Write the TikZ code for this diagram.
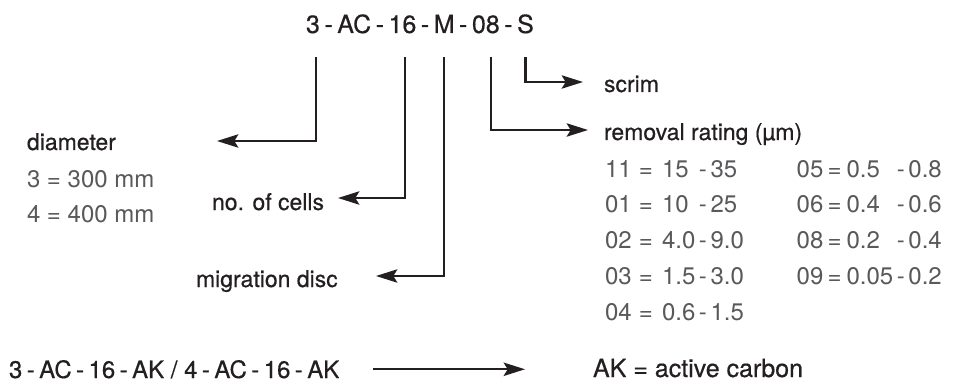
\documentclass[tikz,border=0pt]{standalone}
\usepackage{fontspec}
\setmainfont{TeX Gyre Heros}
\newfontfamily\labelfont[FakeBold=0.5]{TeX Gyre Heros}
\usepackage{tikz}
\usetikzlibrary{positioning,arrows.meta}
\definecolor{ink}{HTML}{231F20}
\definecolor{greytext}{HTML}{58595B}
\newcommand{\hy}{\hspace{0.185em}-\hspace{0.185em}}

\begin{document}
\begin{tikzpicture}[x=0.75pt, y=-0.75pt, line width=1.6pt,
    >={Stealth[length=16pt,width=10pt,inset=3pt]},
    code/.style={inner sep=0pt, outer sep=0pt, text=ink, font=\labelfont\fontsize{18.75}{22}\selectfont},
    lbl/.style={inner sep=0pt, outer sep=0pt, anchor=base west, text=ink, font=\labelfont\fontsize{17.25}{20}\selectfont},
    val/.style={inner sep=0pt, outer sep=0pt, anchor=base west, text=greytext, font=\fontsize{18}{27}\selectfont},
    conn/.style={->, draw=ink}]
    \useasboundingbox (0,0) rectangle (958,385);

    % Type code
    \node[code, anchor=base west] (c3) at (306,33) {3};
    \node[code, base right=3.4pt of c3] (h1) {-};
    \node[code, base right=3.4pt of h1] (cAC) {AC};
    \node[code, base right=3.4pt of cAC] (h2) {-};
    \node[code, base right=3.4pt of h2] (c16) {16};
    \node[code, base right=3.4pt of c16] (h3) {-};
    \node[code, base right=3.4pt of h3] (cM) {M};
    \node[code, base right=3.4pt of cM] (h4) {-};
    \node[code, base right=3.4pt of h4] (c08) {08};
    \node[code, base right=3.4pt of c08] (h5) {-};
    \node[code, base right=3.4pt of h5] (cS) {S};

    % Left side
    \node[lbl] (diam) at (27,150) {diameter};
    \node[val] (d3) at (27,187) {3 = 300 mm};
    \node[val] (d4) at (27,223) {4 = 400 mm};
    \node[lbl] (cells) at (212,210) {no. of cells};
    \node[lbl] (mig) at (196,287) {migration disc};

    % Right side
    \node[lbl] (scrim) at (604,92) {scrim};
    \node[lbl] (rem) at (604,140) {removal rating (µm)};
    \node[val] (rating) at (605,177) {\begin{tabular}[t]{@{}l@{\hspace{.3em}=\hspace{.38em}}l@{\hspace{.15em}-\hspace{.15em}}l@{\hspace{2.2em}}l@{\hspace{.18em}=\hspace{.2em}}l@{\hspace{.15em}-\hspace{.15em}}l@{}}
        11 & 15 & 35 & 05 & 0.5 & 0.8\\
        01 & 10 & 25 & 06 & 0.4 & 0.6\\
        02 & 4.0 & 9.0 & 08 & 0.2 & 0.4\\
        03 & 1.5 & 3.0 & 09 & 0.05 & 0.2\\
        04 & 0.6 & 1.5 & \multicolumn{3}{@{}l@{}}{}\\
    \end{tabular}};

    % Leaders
    \coordinate (top) at (0,57);
    \coordinate (tDiam) at (217,141);
    \coordinate (tCells) at (338,198);
    \coordinate (tMig) at (376,276);
    \coordinate (tRem) at (588,130);
    \coordinate (tScrim) at (583,82);
    \draw[conn] ([xshift=2pt]c3 |- top) |- (tDiam);
    \draw[conn] ([xshift=2pt]c16 |- top) |- (tCells);
    \draw[conn] (cM |- top) |- (tMig);
    \draw[conn] ([xshift=4pt]c08 |- top) |- (tRem);
    \draw[conn] (cS |- top) |- (tScrim);

    % Active carbon
    \node[code, anchor=base west, font=\labelfont\fontsize{18}{22}\selectfont] (ak) at (9,378) {3\hy AC\hy 16\hy AK / 4\hy AC\hy 16\hy AK};
    \node[lbl, font=\labelfont\fontsize{18.75}{22}\selectfont] (akdef) at (593,377) {AK = active carbon};
    \draw[conn, shorten <=25.5pt, shorten >=51pt] (ak.east) -- (ak.east -| akdef.west);
\end{tikzpicture}
\end{document}
